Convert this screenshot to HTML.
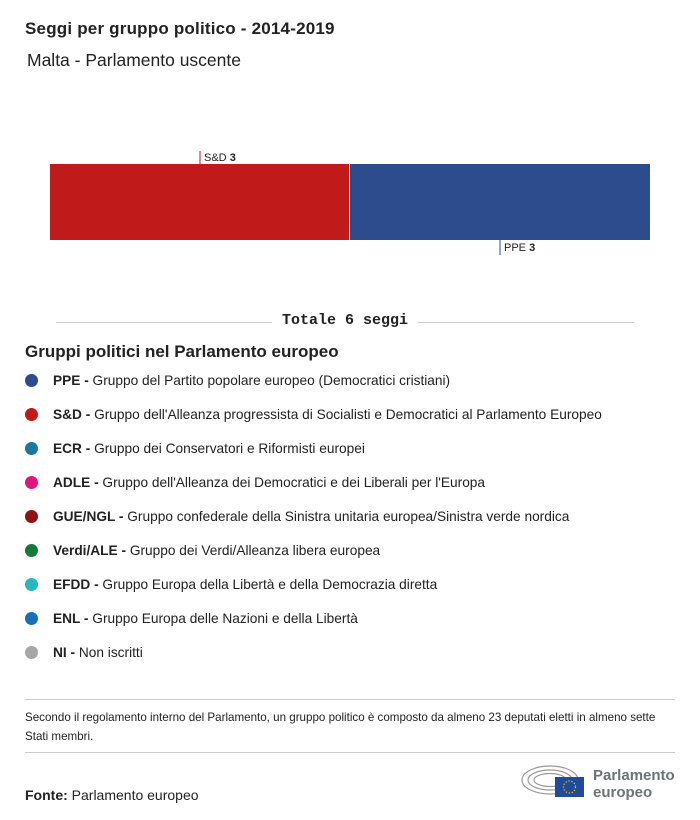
<!DOCTYPE html>
<html><head><meta charset="utf-8"><style>
body{margin:0;width:700px;height:820px;background:#fff;font-family:"Liberation Sans",sans-serif;color:#222;position:relative;overflow:hidden}
.abs{position:absolute}
.leg{position:absolute;left:25px;font-size:13.7px;white-space:nowrap}
.leg .dot{display:inline-block;width:13px;height:13px;border-radius:50%;vertical-align:-2px;margin-right:15px}
.leg b{font-weight:bold}
</style></head><body>
<div class="abs" style="left:25px;top:19px;font-size:17px;font-weight:bold;letter-spacing:0.2px">Seggi per gruppo politico - 2014-2019</div>
<div class="abs" style="left:27px;top:50px;font-size:17.5px">Malta - Parlamento uscente</div>
<svg class="abs" style="left:0;top:0" width="700" height="340" id="chart"></svg>
<div class="abs" style="left:56px;top:322px;width:216px;height:1px;background:#ccc"></div>
<div class="abs" style="left:418px;top:322px;width:216px;height:1px;background:#ccc"></div>
<div class="abs" style="left:272px;top:312px;width:146px;text-align:center;font-family:'Liberation Mono',monospace;font-weight:bold;font-size:15px">Totale 6 seggi</div>
<div class="abs" style="left:25px;top:342px;font-size:17px;font-weight:bold">Gruppi politici nel Parlamento europeo</div>
<div id="legend"></div>
<div class="abs" style="left:25px;top:699px;width:650px;height:1px;background:#ccc"></div>
<div class="abs" style="left:25px;top:708px;width:650px;font-size:11.6px;line-height:19px">Secondo il regolamento interno del Parlamento, un gruppo politico è composto da almeno 23 deputati eletti in almeno sette Stati membri.</div>
<div class="abs" style="left:25px;top:752px;width:650px;height:1px;background:#ccc"></div>
<div class="abs" style="left:25px;top:787px;font-size:14px"><b>Fonte:</b> Parlamento europeo</div>
<svg class="abs" style="left:520px;top:762px" width="70" height="38">
<g fill="none" stroke="#999" stroke-width="1.2"><ellipse cx="30" cy="18" rx="28" ry="14"/><ellipse cx="30" cy="18" rx="22" ry="10"/><ellipse cx="30" cy="18" rx="16" ry="6.5"/></g>
<rect x="35" y="15" width="29" height="20" fill="#1f4b9a"/><circle cx="49.5" cy="25" r="6" fill="none" stroke="#fc0" stroke-width="1.2" stroke-dasharray="1.2 1.8"/></svg>
<div class="abs" style="left:593px;top:767px;font-size:15px;font-weight:bold;color:#6b7378;line-height:17px">Parlamento<br>europeo</div>
<script>
const groups=["S&D","PPE"];
const seats=[3,3];
const colors=["#c01a1a","#2c4c8d"];
const svg=document.getElementById('chart');
const NS="http://www.w3.org/2000/svg";
const x0=50,x1=650,total=seats.reduce((a,b)=>a+b,0);
const sx=v=>x0+(x1-x0)*v/total;
let acc=0;
seats.forEach((s,i)=>{
 const r=document.createElementNS(NS,'rect');
 
 
 const a=sx(acc),b=sx(acc+s);
 r.setAttribute('x',a);r.setAttribute('y',164);r.setAttribute('width',b-a-(i<seats.length-1?1:0));r.setAttribute('height',76);r.setAttribute('fill',colors[i]);
 svg.appendChild(r);
 const mid=(a+b)/2, up=i%2===0;
 const l=document.createElementNS(NS,'line');
 
 
 l.setAttribute('x1',mid);l.setAttribute('x2',mid);l.setAttribute('y1',up?151:240);l.setAttribute('y2',up?164:255);l.setAttribute('stroke',colors[i]);
 svg.appendChild(l);
 const t=document.createElementNS(NS,'text');
 
 
 t.setAttribute('x',mid+4);t.setAttribute('y',up?161:251);t.setAttribute('font-size','11');t.setAttribute('fill','#222');
 t.innerHTML=groups[i].replace('&','&amp;')+' <tspan font-weight="bold">'+s+'</tspan>';
 svg.appendChild(t);
 acc+=s;
});
const legAbbr=["PPE","S&D","ECR","ADLE","GUE/NGL","Verdi/ALE","EFDD","ENL","NI"];
const legDesc=["Gruppo del Partito popolare europeo (Democratici cristiani)","Gruppo dell'Alleanza progressista di Socialisti e Democratici al Parlamento Europeo","Gruppo dei Conservatori e Riformisti europei","Gruppo dell'Alleanza dei Democratici e dei Liberali per l'Europa","Gruppo confederale della Sinistra unitaria europea/Sinistra verde nordica","Gruppo dei Verdi/Alleanza libera europea","Gruppo Europa della Libertà e della Democrazia diretta","Gruppo Europa delle Nazioni e della Libertà","Non iscritti"];
const legCol=["#2c4c8d","#c01a1a","#1b77a0","#e0157f","#8c1414","#137a3b","#28b6c0","#1670b8","#a6a6a6"];
const L=document.getElementById('legend');
legAbbr.forEach((a,i)=>{
 const d=document.createElement('div');
 d.className='leg';
 
 
 d.style.top=(373+34*i)+'px';
 d.innerHTML='<span class="dot" style="background:'+legCol[i]+'"></span><b>'+a.replace('&','&amp;')+' -</b> '+legDesc[i];
 L.appendChild(d);
});
</script>
</body></html>
